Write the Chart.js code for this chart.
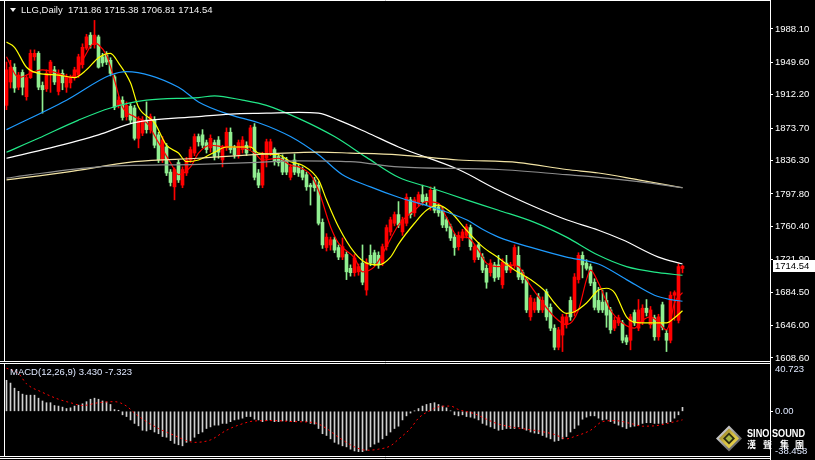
<!DOCTYPE html>
<html>
<head>
<meta charset="utf-8">
<script src="https://cdn.jsdelivr.net/npm/chart.js@4/dist/chart.umd.min.js"></script>
<style>
  html, body { margin: 0; padding: 0; background: #000; overflow: hidden; }
  #wrap { position: relative; width: 815px; height: 460px; background: #000; }
  #main { position: absolute; left: 0; top: 0; }
  #macd { position: absolute; left: 0; top: 362px; }
</style>
</head>
<body>
<div id="wrap">
  <canvas id="main" width="815" height="363"></canvas>
  <canvas id="macd" width="815" height="98"></canvas>
</div>
<script>
// daily candles: [open, high, low, close]
var ohlc = [
  [1900,1950,1895,1941],[1927,1952,1920,1944],[1944,1948,1915,1920],[1921,1938,1918,1935],[1938,1941,1912,1921],
  [1910,1935,1906,1932],[1932,1964,1931,1960],[1956,1964,1952,1960],[1960,1962,1918,1921],[1923,1927,1891,1918],
  [1919,1941,1916,1937],[1937,1952,1915,1950],[1941,1945,1924,1927],[1916,1941,1912,1937],[1937,1941,1918,1926],
  [1921,1936,1915,1933],[1926,1935,1920,1933],[1932,1944,1929,1941],[1935,1959,1932,1956],[1947,1971,1943,1967],
  [1966,1982,1964,1979],[1981,1984,1966,1970],[1970,1998,1966,1981],[1979,1981,1943,1944],[1956,1960,1945,1949],
  [1958,1962,1947,1950],[1952,1955,1934,1937],[1933,1935,1895,1898],[1900,1910,1897,1906],[1906,1910,1883,1886],
  [1887,1904,1883,1900],[1899,1902,1880,1883],[1897,1900,1860,1862],[1862,1887,1851,1883],[1868,1887,1865,1883],
  [1883,1904,1868,1872],[1872,1890,1868,1887],[1883,1887,1851,1854],[1866,1869,1834,1837],[1837,1864,1834,1860],
  [1852,1856,1819,1822],[1823,1826,1807,1811],[1806,1828,1791,1826],[1834,1837,1811,1814],[1808,1829,1805,1826],
  [1822,1840,1819,1837],[1837,1852,1834,1849],[1845,1867,1842,1864],[1864,1867,1853,1858],[1866,1872,1851,1854],
  [1857,1860,1845,1849],[1851,1866,1846,1862],[1857,1860,1837,1841],[1860,1864,1839,1846],[1837,1854,1829,1852],
  [1851,1874,1848,1869],[1869,1874,1845,1849],[1851,1854,1839,1843],[1843,1860,1839,1857],[1849,1864,1845,1860],
  [1854,1858,1842,1845],[1852,1877,1849,1874],[1875,1879,1814,1817],[1822,1826,1805,1808],[1808,1846,1805,1843],
  [1839,1861,1829,1858],[1845,1861,1842,1858],[1849,1851,1831,1835],[1841,1844,1830,1834],[1839,1843,1820,1823],
  [1837,1840,1820,1823],[1817,1832,1814,1829],[1837,1844,1820,1823],[1829,1832,1818,1822],[1825,1829,1814,1817],
  [1820,1823,1802,1806],[1808,1810,1785,1806],[1814,1817,1801,1805],[1808,1812,1762,1764],[1765,1769,1735,1739],
  [1736,1752,1732,1748],[1739,1748,1733,1745],[1745,1748,1730,1733],[1736,1739,1722,1725],[1725,1747,1722,1737],
  [1728,1731,1699,1708],[1712,1716,1703,1707],[1707,1728,1703,1724],[1708,1717,1704,1714],[1718,1739,1693,1696],
  [1687,1723,1681,1719],[1727,1739,1715,1718],[1730,1733,1715,1718],[1727,1731,1712,1716],[1718,1740,1715,1737],
  [1737,1762,1733,1759],[1754,1771,1750,1768],[1764,1777,1761,1774],[1774,1789,1759,1762],[1754,1771,1750,1768],
  [1764,1798,1761,1794],[1791,1794,1770,1774],[1776,1794,1772,1791],[1787,1800,1784,1797],[1797,1808,1785,1789],
  [1794,1798,1785,1789],[1783,1806,1779,1802],[1802,1806,1776,1779],[1783,1786,1772,1776],[1779,1783,1759,1762],
  [1768,1771,1755,1759],[1760,1763,1744,1747],[1748,1752,1727,1736],[1737,1754,1733,1750],[1747,1757,1744,1754],
  [1750,1763,1747,1760],[1759,1762,1733,1737],[1722,1740,1719,1737],[1739,1742,1722,1725],[1725,1729,1707,1710],
  [1712,1716,1689,1696],[1707,1722,1703,1718],[1716,1719,1697,1701],[1716,1727,1699,1702],[1693,1723,1689,1719],
  [1718,1727,1707,1710],[1710,1719,1707,1716],[1716,1739,1712,1736],[1727,1737,1699,1702],[1707,1710,1695,1699],
  [1699,1702,1661,1664],[1656,1681,1652,1678],[1664,1677,1661,1673],[1679,1683,1661,1664],[1664,1679,1661,1675],
  [1685,1688,1652,1656],[1667,1671,1640,1643],[1643,1647,1618,1621],[1621,1644,1618,1641],[1635,1659,1616,1656],
  [1647,1659,1643,1656],[1675,1679,1652,1656],[1661,1706,1657,1702],[1699,1730,1695,1727],[1727,1731,1701,1716],
  [1718,1722,1710,1712],[1714,1717,1692,1695],[1696,1700,1664,1667],[1675,1690,1661,1664],[1673,1687,1661,1664],
  [1675,1684,1644,1658],[1664,1667,1637,1641],[1643,1656,1640,1652],[1649,1658,1646,1655],[1649,1652,1626,1629],
  [1632,1635,1624,1627],[1629,1659,1618,1656],[1661,1664,1646,1649],[1643,1676,1640,1664],[1650,1670,1647,1666],
  [1666,1676,1657,1661],[1647,1668,1643,1664],[1655,1658,1629,1633],[1633,1659,1629,1656],[1670,1673,1641,1644],
  [1637,1641,1616,1629],[1629,1685,1626,1681],[1681,1686,1652,1684],[1652,1717,1649,1714],[1711.86,1715.38,1706.81,1714.54]
];

// moving averages: [bar index, price]
var maRed = [[0,1956],[3,1932],[7,1939],[9,1941],[13,1937],[16,1932],[19,1952],[22,1972],[23,1970],[25,1958],[27,1929],
  [29,1898],[32,1887],[35,1880],[38,1857],[41,1834],[43,1820],[46,1829],[48,1845],[51,1854],[55,1852],[58,1852],[62,1845],
  [64,1837],[68,1839],[71,1831],[73,1829],[76,1820],[78,1802],[81,1760],[83,1741],[87,1724],[89,1708],[92,1714],[95,1737],
  [98,1762],[102,1779],[105,1789],[108,1787],[110,1771],[113,1748],[115,1748],[118,1733],[120,1718],[123,1714],[125,1716],
  [128,1714],[130,1699],[133,1679],[137,1656],[140,1647],[143,1664],[145,1699],[146,1710],[148,1695],[151,1664],[154,1649],
  [157,1643],[159,1652],[161,1656],[163,1650],[165,1641],[166,1652],[167,1672],[169,1684]];
var maYellow = [[0,1973],[2,1967],[5,1944],[8,1937],[13,1935],[17,1932],[20,1941],[23,1955],[26,1960],[28,1949],[31,1926],
  [33,1898],[37,1880],[40,1854],[43,1845],[45,1835],[48,1837],[52,1846],[55,1852],[61,1852],[63,1845],[68,1843],[71,1835],
  [74,1831],[78,1814],[80,1791],[83,1760],[87,1730],[90,1718],[93,1716],[96,1725],[98,1740],[102,1764],[105,1779],[108,1785],
  [111,1777],[115,1756],[119,1737],[123,1724],[127,1710],[131,1699],[135,1684],[137,1672],[140,1660],[142,1662],[145,1672],
  [148,1687],[150,1689],[152,1684],[155,1656],[157,1650],[161,1649],[165,1649],[167,1655],[169,1663]];
var maBlue = [[0,1872],[15,1906],[26,1935],[30,1939],[43,1921],[48,1904],[56,1889],[63,1880],[71,1864],[78,1843],[84,1820],
  [91,1806],[98,1794],[106,1783],[115,1768],[119,1757],[123,1748],[132,1735],[140,1725],[148,1717],[155,1699],[162,1681],
  [166,1676],[169,1674]];
var maGreen = [[0,1846],[8,1862],[18,1883],[26,1897],[35,1906],[48,1909],[52,1911],[59,1906],[65,1900],[73,1885],[82,1864],
  [90,1840],[98,1817],[106,1805],[115,1791],[123,1779],[132,1765],[140,1748],[148,1727],[155,1714],[163,1707],[169,1704]];
var maWhite = [[0,1839],[11,1851],[23,1866],[32,1880],[48,1887],[56,1890],[65,1891],[73,1892],[78,1891],[83,1883],[90,1869],
  [98,1852],[113,1826],[123,1802],[132,1783],[140,1768],[148,1756],[154,1745],[163,1725],[169,1717]];
var maKhaki = [[0,1814],[15,1823],[32,1835],[48,1839],[65,1844],[78,1846],[86,1845],[98,1843],[113,1837],[128,1834],
  [140,1826],[148,1822],[158,1814],[169,1805]];
var maGray = [[0,1816],[6,1820],[23,1829],[48,1832],[61,1834],[73,1836],[86,1835],[98,1829],[123,1826],[140,1820],
  [148,1817],[158,1812],[169,1805]];

// MACD(12,26,9) main values, one per bar
var macd = [
  26.7,24.3,19.9,17.2,14.8,13.9,13.9,13.9,11.3,8.9,
  7.4,7.4,5.0,4.5,3.6,2.4,3.0,4.5,5.3,6.5,
  8.3,10.4,11.3,10.4,8.9,8.0,5.9,1.5,0.9,-3.0,
  -4.5,-7.4,-10.4,-12.5,-16.3,-16.9,-15.7,-17.8,-19.3,-21.7,
  -22.3,-25.2,-27.6,-28.8,-29.7,-26.7,-25.2,-22.3,-19.3,-17.8,
  -14.8,-13.4,-11.9,-11.9,-10.4,-10.4,-8.9,-7.4,-6.8,-5.9,
  -4.5,-4.5,-6.8,-7.4,-8.9,-8.0,-7.4,-8.9,-8.9,-8.3,
  -8.0,-8.9,-8.9,-8.0,-8.3,-8.9,-10.4,-11.0,-14.8,-19.3,
  -20.8,-23.7,-26.7,-28.2,-29.7,-30.6,-32.6,-34.1,-34.7,-34.7,
  -33.5,-30.6,-28.2,-26.7,-23.7,-20.8,-17.8,-14.8,-12.8,
  -7.4,-3.9,-1.5,0.3,2.4,4.5,5.9,6.8,7.4,5.9,
  4.5,3.0,0.4,-3.0,-3.9,-3.0,-4.5,-5.0,-5.9,-7.4,
  -10.4,-11.9,-13.4,-14.8,-16.3,-15.7,-14.8,-14.8,-14.8,-13.4,
  -14.8,-16.3,-17.8,-18.7,-19.3,-20.8,-22.3,-23.7,-25.8,-25.2,
  -23.7,-21.7,-17.8,-14.8,-11.9,-6.8,-5.0,-3.9,-3.9,-5.9,
  -7.4,-6.8,-8.9,-10.4,-11.9,-13.4,-14.8,-13.4,-12.8,-11.9,
  -10.4,-9.8,-9.8,-10.4,-10.4,-10.4,-9.8,-8.9,-5.9,-3.0,
  3.430
];
// MACD signal line: [bar index, value]
var signal = [[0,37.1],[3,32.6],[5,23.7],[9,16.3],[13,10.4],[16,7.4],[19,5.0],[23,7.4],[27,8.3],[30,4.5],[32,-1.5],
  [35,-8.9],[38,-14.8],[42,-20.8],[45,-25.2],[47,-26.7],[51,-24.6],[55,-16.3],[58,-11.9],[62,-8.3],[67,-8.0],[72,-8.9],
  [77,-9.8],[80,-14.8],[83,-22.3],[87,-30.6],[90,-33.5],[93,-32.6],[96,-29.7],[98,-24.0],[101,-14.8],[103,-5.9],[106,0.9],
  [108,3.9],[111,4.5],[113,1.5],[117,-2.1],[120,-6.8],[123,-11.0],[127,-13.9],[130,-15.4],[133,-16.9],[137,-19.9],
  [140,-23.7],[142,-21.7],[146,-16.3],[149,-8.9],[152,-8.0],[156,-10.4],[159,-12.8],[162,-12.5],[166,-9.8],[169,-7.323]];

var priceTicks = [1608.6, 1646.0, 1684.5, 1721.9, 1760.4, 1797.8, 1836.3, 1873.7, 1912.2, 1949.6, 1988.1];
var macdMin = -38.458, macdMax = 40.723;
var symbol = 'LLG,Daily';

var UP = '#ff0000', DOWN = '#90ee90';
var FONT = 'Liberation Sans, Arial, sans-serif';
var xMin = -0.375, xMax = xMin + 765 / 4;

var candleColors = ohlc.map(function (c) { return c[3] >= c[0] ? UP : DOWN; });
var last = ohlc[ohlc.length - 1];

function pts(a) { return a.map(function (p) { return { x: p[0], y: p[1] }; }); }
function maLine(a, color) {
    return {
        type: 'line', data: pts(a), borderColor: color, borderWidth: 1.2,
        pointRadius: 0, tension: 0.4, cubicInterpolationMode: 'monotone', order: 0
    };
}
function noPad(s) { s.width = 45; s.paddingTop = 0; s.paddingBottom = 0; }
var xAxis = { type: 'linear', display: false, offset: false, bounds: 'data', min: xMin, max: xMax, grid: { offset: false } };

var mainDeco = {
    id: 'mainDeco',
    beforeDraw: function (chart) {
        var c = chart.ctx;
        c.save(); c.fillStyle = '#000'; c.fillRect(0, 0, chart.width, chart.height); c.restore();
    },
    afterDraw: function (chart) {
        var c = chart.ctx, a = chart.chartArea, y = chart.scales.y;
        c.save();
        c.strokeStyle = '#fff'; c.lineWidth = 1;
        c.beginPath();
        c.moveTo(0, 0.5); c.lineTo(a.right + 0.5, 0.5);
        c.moveTo(0, a.bottom + 0.5); c.lineTo(a.right + 0.5, a.bottom + 0.5);
        c.moveTo(a.left - 0.5, 0); c.lineTo(a.left - 0.5, a.bottom + 0.5);
        c.moveTo(a.right + 0.5, 0); c.lineTo(a.right + 0.5, chart.height);
        c.stroke();
        // header
        c.fillStyle = '#f0f0f0';
        c.beginPath(); c.moveTo(10, 8); c.lineTo(16, 8); c.lineTo(13, 12); c.closePath(); c.fill();
        c.font = '9.5px ' + FONT; c.textBaseline = 'middle';
        c.fillText(symbol, 21, 10);
        c.fillText(last.map(function (v) { return v.toFixed(2); }).join(' '), 68, 10);
        // current price box
        var py = Math.round(y.getPixelForValue(last[3]));
        c.fillStyle = '#fff';
        c.fillRect(773, py - 6, 42, 12);
        c.fillStyle = '#000';
        c.fillText(last[3].toFixed(2), 775, py + 0.5);
        c.restore();
    }
};

new Chart(document.getElementById('main'), {
    type: 'bar',
    data: {
        datasets: [
            maLine(maGray, '#8c8c8c'),
            maLine(maKhaki, '#f2e3a4'),
            maLine(maWhite, '#ffffff'),
            maLine(maGreen, '#22e888'),
            maLine(maBlue, '#1e9bff'),
            maLine(maYellow, '#ffff00'),
            maLine(maRed, '#ff0000'),
            {
                data: ohlc.map(function (c, i) { return { x: i, y: [c[0], c[3]] }; }),
                backgroundColor: candleColors, barThickness: 3, minBarLength: 1, grouped: false, order: 1
            },
            {
                data: ohlc.map(function (c, i) { return { x: i, y: [c[2], c[1]] }; }),
                backgroundColor: candleColors, barThickness: 1, grouped: false, order: 2
            }
        ]
    },
    options: {
        responsive: false,
        animation: false,
        devicePixelRatio: 1,
        layout: { padding: { left: 5, top: 1, right: 0, bottom: 2 } },
        scales: {
            x: xAxis,
            y: {
                position: 'right',
                min: 1605.1, max: 2020.4,
                afterBuildTicks: function (s) { s.ticks = priceTicks.map(function (v) { return { value: v }; }); },
                afterFit: noPad,
                ticks: {
                    color: '#ffffff', autoSkip: false, padding: 2,
                    font: { family: FONT, size: 9.5 },
                    callback: function (v) { return Number(v).toFixed(2); }
                },
                grid: { drawOnChartArea: false, drawTicks: true, tickLength: 3, color: '#ffffff' },
                border: { display: false }
            }
        },
        plugins: { legend: { display: false }, tooltip: { enabled: false } }
    },
    plugins: [mainDeco]
});

var macdDeco = {
    id: 'macdDeco',
    beforeDraw: function (chart) {
        var c = chart.ctx;
        c.save(); c.fillStyle = '#000'; c.fillRect(0, 0, chart.width, chart.height); c.restore();
    },
    afterDraw: function (chart) {
        var c = chart.ctx, a = chart.chartArea;
        c.save();
        c.strokeStyle = '#fff'; c.lineWidth = 1;
        c.beginPath();
        c.moveTo(0, a.top - 0.5); c.lineTo(a.right + 0.5, a.top - 0.5);
        c.moveTo(0, a.bottom + 0.5); c.lineTo(a.right + 0.5, a.bottom + 0.5);
        c.moveTo(0, a.bottom + 2.5); c.lineTo(a.right + 0.5, a.bottom + 2.5);
        c.moveTo(a.left - 0.5, a.top - 0.5); c.lineTo(a.left - 0.5, a.bottom + 0.5);
        c.moveTo(a.right + 0.5, 0); c.lineTo(a.right + 0.5, chart.height);
        c.stroke();

        c.fillStyle = '#dfe8ff';
        c.font = '9.5px ' + FONT;
        c.textBaseline = 'middle';
        c.fillText('MACD(12,26,9) ' + macd[macd.length - 1].toFixed(3) + ' ' +
            signal[signal.length - 1][1].toFixed(3), 10, 10.5);
        c.textBaseline = 'top';
        c.fillText(macdMax.toFixed(3), 775, a.top + 1);
        c.textBaseline = 'bottom';
        c.fillText(macdMin.toFixed(3), 775, a.bottom);

        // watermark logo
        var cx = 729, cy = 76.5;
        function diamond(r, fill) {
            c.beginPath(); c.moveTo(cx, cy - r); c.lineTo(cx + r, cy); c.lineTo(cx, cy + r); c.lineTo(cx - r, cy);
            c.closePath(); c.fillStyle = fill; c.fill();
        }
        var g1 = c.createLinearGradient(cx - 13, cy - 13, cx + 13, cy + 13);
        g1.addColorStop(0, '#f4f4f4'); g1.addColorStop(0.5, '#9a9a9a'); g1.addColorStop(1, '#3a3a3a');
        diamond(13, g1);
        var g2 = c.createLinearGradient(cx - 10, cy - 10, cx + 10, cy + 10);
        g2.addColorStop(0, '#7a6a20'); g2.addColorStop(0.5, '#d8c040'); g2.addColorStop(1, '#f0dc50');
        diamond(10, g2);
        diamond(6, '#2a2a10');
        diamond(3.5, '#a8b840');

        c.fillStyle = '#ffffff';
        c.textBaseline = 'alphabetic';
        c.font = 'bold 11.5px ' + FONT;
        var t = 'SINO SOUND', w = c.measureText(t).width;
        c.save(); c.translate(747, 75); c.scale(58 / w, 1); c.fillText(t, 0, 0); c.restore();
        c.font = 'bold 9px "Noto Sans CJK TC", "Noto Sans CJK SC", sans-serif';
        var cn = ['漢', '聲', '集', '團'], cxs = [747, 763, 780, 795];
        for (var i = 0; i < cn.length; i++) c.fillText(cn[i], cxs[i], 85.5);
        c.restore();
    }
};

new Chart(document.getElementById('macd'), {
    type: 'bar',
    data: {
        datasets: [
            {
                type: 'line', data: pts(signal), borderColor: '#ff0000', borderWidth: 1,
                borderDash: [2, 3], pointRadius: 0, tension: 0.4, cubicInterpolationMode: 'monotone', order: 0
            },
            {
                data: macd.map(function (v, i) { return { x: i, y: v }; }),
                backgroundColor: '#d0d0d0', barThickness: 1, grouped: false, order: 1
            }
        ]
    },
    options: {
        responsive: false,
        animation: false,
        devicePixelRatio: 1,
        layout: { padding: { left: 5, top: 2, right: 0, bottom: 4 } },
        scales: {
            x: xAxis,
            y: {
                position: 'right',
                min: macdMin, max: macdMax,
                afterBuildTicks: function (s) { s.ticks = [{ value: 0 }]; },
                afterFit: noPad,
                ticks: {
                    color: '#dfe8ff', autoSkip: false, padding: 2,
                    font: { family: FONT, size: 9.5 },
                    callback: function (v) { return Number(v).toFixed(2); }
                },
                grid: { drawOnChartArea: false, drawTicks: true, tickLength: 3, color: '#ffffff' },
                border: { display: false }
            }
        },
        plugins: { legend: { display: false }, tooltip: { enabled: false } }
    },
    plugins: [macdDeco]
});
</script>
</body>
</html>
